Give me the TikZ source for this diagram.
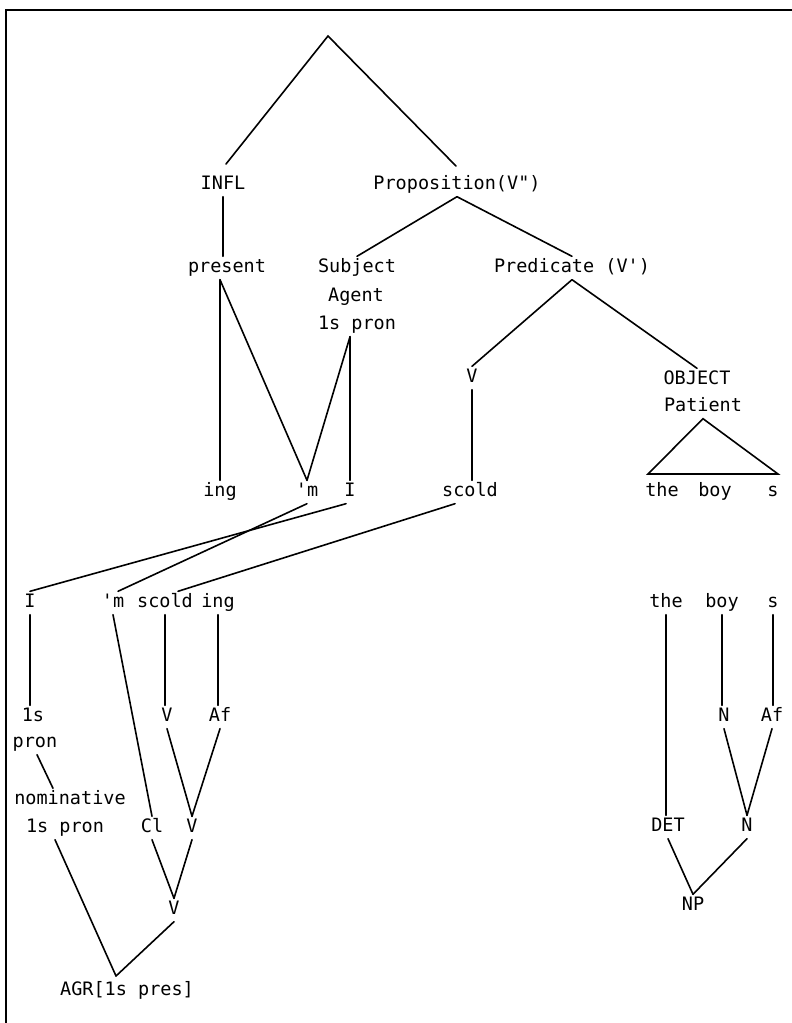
\documentclass[tikz,border=0pt]{standalone}
\usepackage{fontspec}
\setmonofont{DejaVu Sans Mono}
\begin{document}
\begin{tikzpicture}[x=1pt,y=-1pt,
  lbl/.style={font=\ttfamily\fontsize{18.5}{20}\selectfont, text height=13pt, text depth=4pt, inner xsep=1pt, inner ysep=3pt},
  edge/.style={line width=1.6pt, line cap=round},
  frame/.style={line width=1.8pt}]
\useasboundingbox (0,0) rectangle (792,1023);
% partial frame
\coordinate (fr1) at (792,10);
\coordinate (fr2) at (6,10);
\coordinate (fr3) at (6,1023);
\draw[frame] (fr1) -- (fr2) -- (fr3);

% upper tree
\coordinate (apex) at (328,36);
\coordinate (inflTop) at (226,164);
\coordinate (propTop) at (456,166);
\node[lbl] (infl) at (223,185) {INFL};
\node[lbl] (prop) at (457,185) {Proposition(V")};
\node[lbl] (present) at (227,268) {present};
\node[lbl] (subj) at (357,268) {Subject};
\node[lbl] (agent) at (356,297) {Agent};
\node[lbl] (spron) at (357,325) {1s pron};
\node[lbl] (pred) at (572,268) {Predicate (V')};
\node[lbl] (v1) at (472,378) {V};
\node[lbl] (obj) at (697,380) {OBJECT};
\node[lbl] (pat) at (703,407) {Patient};

\node[lbl] (ing1) at (220,492) {ing};
\node[lbl] (m1) at (307,492) {'m};
\node[lbl] (l1) at (350,492) {I};
\node[lbl] (scold1) at (470,492) {scold};
\node[lbl] (the1) at (662,492) {the};
\node[lbl] (boy1) at (715,492) {boy};
\node[lbl] (s1) at (773,492) {s};
\coordinate (trl) at (648,474);
\coordinate (trr) at (778,474);

% lower row
\node[lbl] (l2) at (30,603) {I};
\node[lbl] (m2) at (113,603) {'m};
\node[lbl] (scold2) at (165,603) {scold};
\node[lbl] (ing2) at (218,603) {ing};
\node[lbl] (the2) at (666,603) {the};
\node[lbl] (boy2) at (722,603) {boy};
\node[lbl] (s2) at (773,603) {s};

\node[lbl] (ones) at (33,717) {1s};
\node[lbl] (pron) at (35,743) {pron};
\node[lbl] (vA) at (167,717) {V};
\node[lbl] (afA) at (220,717) {Af};
\node[lbl] (nA) at (724,717) {N};
\node[lbl] (afB) at (772,717) {Af};

\node[lbl] (nom1) at (70,800) {nominative};
\node[lbl] (nom2) at (65,828) {1s pron};
\node[lbl] (cl) at (152,828) {Cl};
\node[lbl] (vB) at (192,828) {V};
\node[lbl] (det) at (668,827) {DET};
\node[lbl] (nB) at (747,827) {N};
\node[lbl] (vC) at (174,910) {V};
\node[lbl] (np) at (693,906) {NP};
\node[lbl] (agr) at (127,991) {AGR[1s pres]};
\coordinate (agrj) at (116,976);

% connectors: upper tree
\draw[edge] (inflTop) -- (apex) -- (propTop);
\draw[edge] (infl.south) -- (infl.south |- present.north);
\draw[edge] (prop.south) -- (subj.north);
\draw[edge] (prop.south) -- (pred.north);
\draw[edge] (pred.south) -- (v1.north);
\draw[edge] (pred.south) -- (obj.north);
\coordinate (pj) at (ing1.north |- present.south);
\draw[edge] (pj) -- (ing1.north);
\draw[edge] (pj) -- (m1.north);
\coordinate (sj) at (l1.north |- spron.south);
\draw[edge] (sj) -- (l1.north);
\draw[edge] (sj) -- (m1.north);
\draw[edge] (v1.south) -- (v1.south |- scold1.north);
\draw[edge] (trl) -- (pat.south) -- (trr) -- cycle;

% crossing connectors
\draw[edge] (m1.south) -- ([xshift=5pt]m2.north);
\draw[edge] ([xshift=-4pt]l1.south) -- (l2.north);
\draw[edge] ([xshift=-15pt]scold1.south) -- ([xshift=13pt]scold2.north);

% lower left
\draw[edge] (l2.south) -- (l2.south |- ones.north);
\draw[edge] (m2.south) -- (cl.north);
\draw[edge] (scold2.south) -- (scold2.south |- vA.north);
\draw[edge] (ing2.south) -- (ing2.south |- afA.north);
\draw[edge] ([xshift=2pt]pron.south) -- ([xshift=-17pt]nom1.north);
\draw[edge] (vA.south) -- (vB.north);
\draw[edge] (afA.south) -- (vB.north);
\draw[edge] (cl.south) -- (vC.north);
\draw[edge] (vB.south) -- (vC.north);
\draw[edge] ([xshift=-10pt]nom2.south) -- (agrj);
\draw[edge] (vC.south) -- (agrj);

% lower right
\draw[edge] (the2.south) -- (the2.south |- det.north);
\draw[edge] (boy2.south) -- (boy2.south |- nA.north);
\draw[edge] (s2.south) -- (s2.south |- afB.north);
\draw[edge] (nA.south) -- (nB.north);
\draw[edge] (afB.south) -- (nB.north);
\draw[edge] (det.south) -- (np.north);
\draw[edge] (nB.south) -- (np.north);
\end{tikzpicture}
\end{document}
